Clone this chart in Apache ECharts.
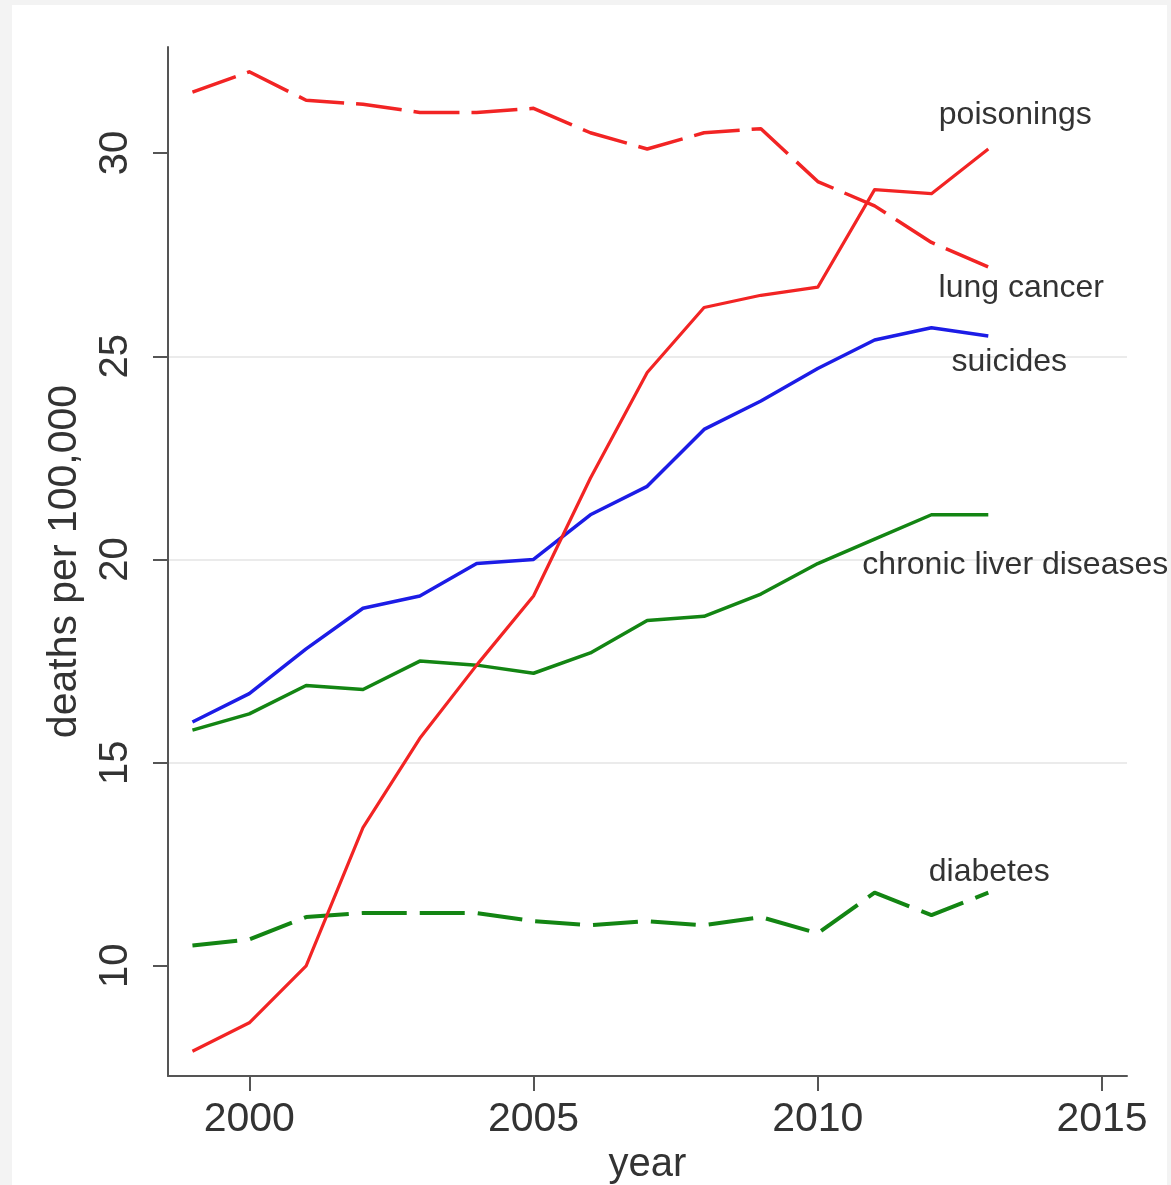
<!DOCTYPE html>
<html>
<head>
<meta charset="utf-8">
<script src="https://cdn.jsdelivr.net/npm/echarts@6/dist/echarts.min.js"></script>
<style>
  html, body { margin: 0; padding: 0; background: #f3f3f3; }
  #chart { position: absolute; left: 12px; top: 5px; width: 1155px; height: 1180px; background: #ffffff; }
</style>
</head>
<body>
<div id="chart"></div>
<script>
// ---- data ----
const years = [1999, 2000, 2001, 2002, 2003, 2004, 2005, 2006, 2007, 2008, 2009, 2010, 2011, 2012, 2013];
const poisonings = [7.9, 8.6, 10.0, 13.4, 15.6, 17.4, 19.1, 22.0, 24.6, 26.2, 26.5, 26.7, 29.1, 29.0, 30.1];
const lungCancer = [31.5, 32.0, 31.3, 31.2, 31.0, 31.0, 31.1, 30.5, 30.1, 30.5, 30.6, 29.3, 28.7, 27.8, 27.2];
const suicides = [16.0, 16.7, 17.8, 18.8, 19.1, 19.9, 20.0, 21.1, 21.8, 23.2, 23.9, 24.7, 25.4, 25.7, 25.5];
const liverDiseases = [15.8, 16.2, 16.9, 16.8, 17.5, 17.4, 17.2, 17.7, 18.5, 18.6, 19.15, 19.9, 20.5, 21.1, 21.1];
const diabetes = [10.5, 10.65, 11.2, 11.3, 11.3, 11.3, 11.1, 11.0, 11.1, 11.0, 11.2, 10.8, 11.8, 11.25, 11.8];
const xTicks = [2000, 2005, 2010, 2015];
const yTicks = [10, 15, 20, 25, 30];
const seriesNames = ['poisonings', 'lung cancer', 'suicides', 'chronic liver diseases', 'diabetes'];

const FONT = '"Liberation Sans", Arial, Helvetica, sans-serif';
const TEXT = '#333333';
const RED = '#f22424', BLUE = '#1c1ce6', GREEN = '#138513';

function pairs(vals) { return years.map((y, i) => [y, vals[i]]); }

function endLabel(name, vals, offset) {
  const n = vals.length - 1;
  return {
    silent: true,
    symbol: 'circle',
    symbolSize: 0,
    animation: false,
    label: {
      show: true, position: 'inside', offset: offset,
      formatter: name, color: TEXT, fontSize: 32, fontFamily: FONT
    },
    data: [{ coord: [years[n], vals[n]] }]
  };
}

function lineSeries(name, vals, color, width, dash, offset) {
  return {
    name: name, type: 'line', data: pairs(vals), symbol: 'none',
    lineStyle: { color: color, width: width, type: dash || 'solid', join: 'round' },
    itemStyle: { color: color },
    markPoint: endLabel(name, vals, offset)
  };
}

const chart = echarts.init(document.getElementById('chart'));
chart.setOption({
  animation: false,
  backgroundColor: '#ffffff',
  textStyle: { fontFamily: FONT },
  grid: { left: 156, right: 40, top: 42, bottom: 109, containLabel: false, outerBoundsMode: 'none' },
  xAxis: {
    type: 'value', min: 1998.57, max: 2015.44,
    name: 'year', nameLocation: 'middle', nameGap: 68,
    nameTextStyle: { fontSize: 40, color: TEXT, fontFamily: FONT },
    axisLine: { show: true, lineStyle: { color: '#555555', width: 2 } },
    axisTick: { show: true, customValues: xTicks, length: 15, lineStyle: { color: '#555555', width: 2 } },
    axisLabel: { customValues: xTicks, formatter: v => String(Math.round(v)), fontSize: 41, color: TEXT, margin: 23, fontFamily: FONT },
    splitLine: { show: false }
  },
  yAxis: {
    type: 'value', min: 7.29, max: 32.61,
    name: 'deaths per 100,000', nameLocation: 'middle', nameGap: 83, nameRotate: 90,
    nameTextStyle: { fontSize: 41, color: TEXT, fontFamily: FONT },
    axisLine: { show: true, lineStyle: { color: '#555555', width: 2 } },
    axisTick: { show: true, customValues: yTicks, length: 15, lineStyle: { color: '#555555', width: 2 } },
    axisLabel: { customValues: yTicks, formatter: v => String(Math.round(v)), rotate: 90, fontSize: 40, color: TEXT, margin: 32, fontFamily: FONT },
    splitLine: { show: true, showMinLine: false, showMaxLine: false, lineStyle: { color: '#ebebeb', width: 2 } }
  },
  series: [
    lineSeries(seriesNames[3], liverDiseases, GREEN, 3.5, null, [27, 50]),
    lineSeries(seriesNames[4], diabetes, GREEN, 4, [45, 13], [1, -21]),
    lineSeries(seriesNames[2], suicides, BLUE, 3.5, null, [21, 26]),
    lineSeries(seriesNames[1], lungCancer, RED, 3.5, [46, 12], [33, 21]),
    lineSeries(seriesNames[0], poisonings, RED, 3.2, null, [27, -34])
  ]
});
</script>
</body>
</html>
